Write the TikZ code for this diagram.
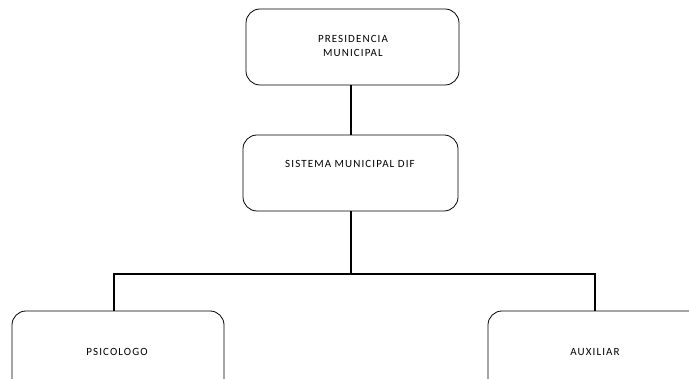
\documentclass[tikz,border=0pt]{standalone}
\usepackage{fontspec}
\setmainfont{Carlito}
\newfontfamily\lblfont[LetterSpace=10]{Carlito}
\tikzset{
  box/.style={draw, line width=0.8pt, rounded corners=14pt},
  lbl/.style={align=center, font=\lblfont\fontsize{11}{14}\selectfont},
  link/.style={draw, line width=1.6pt}
}
\begin{document}
\begin{tikzpicture}[x=1pt,y=-1pt]
\useasboundingbox (0,0) rectangle (689,379);
\clip (0,0) rectangle (689,379);
\draw[box] (246,9) rectangle (459,85);
\node[lbl] (p) at (353,46) {PRESIDENCIA\\MUNICIPAL};
\coordinate (pb) at (351,85);
\draw[box] (243,135) rectangle (458,211);
\node[lbl] (s) at (350,164) {SISTEMA MUNICIPAL DIF};
\coordinate (st) at (351,135);
\coordinate (sb) at (351,211);
\draw[box] (12,311) rectangle (224,420);
\node[lbl] (ps) at (117,352) {PSICOLOGO};
\coordinate (pst) at (114,311);
\draw[box] (488,311) rectangle (720,420);
\node[lbl] (au) at (595,352) {AUXILIAR};
\coordinate (aut) at (595,311);
\coordinate (j) at (351,274);
\draw[link] (pb) -- (st);
\draw[link] (sb) -- (j);
\draw[link] (pst) |- (j) -| (aut);
\end{tikzpicture}
\end{document}
